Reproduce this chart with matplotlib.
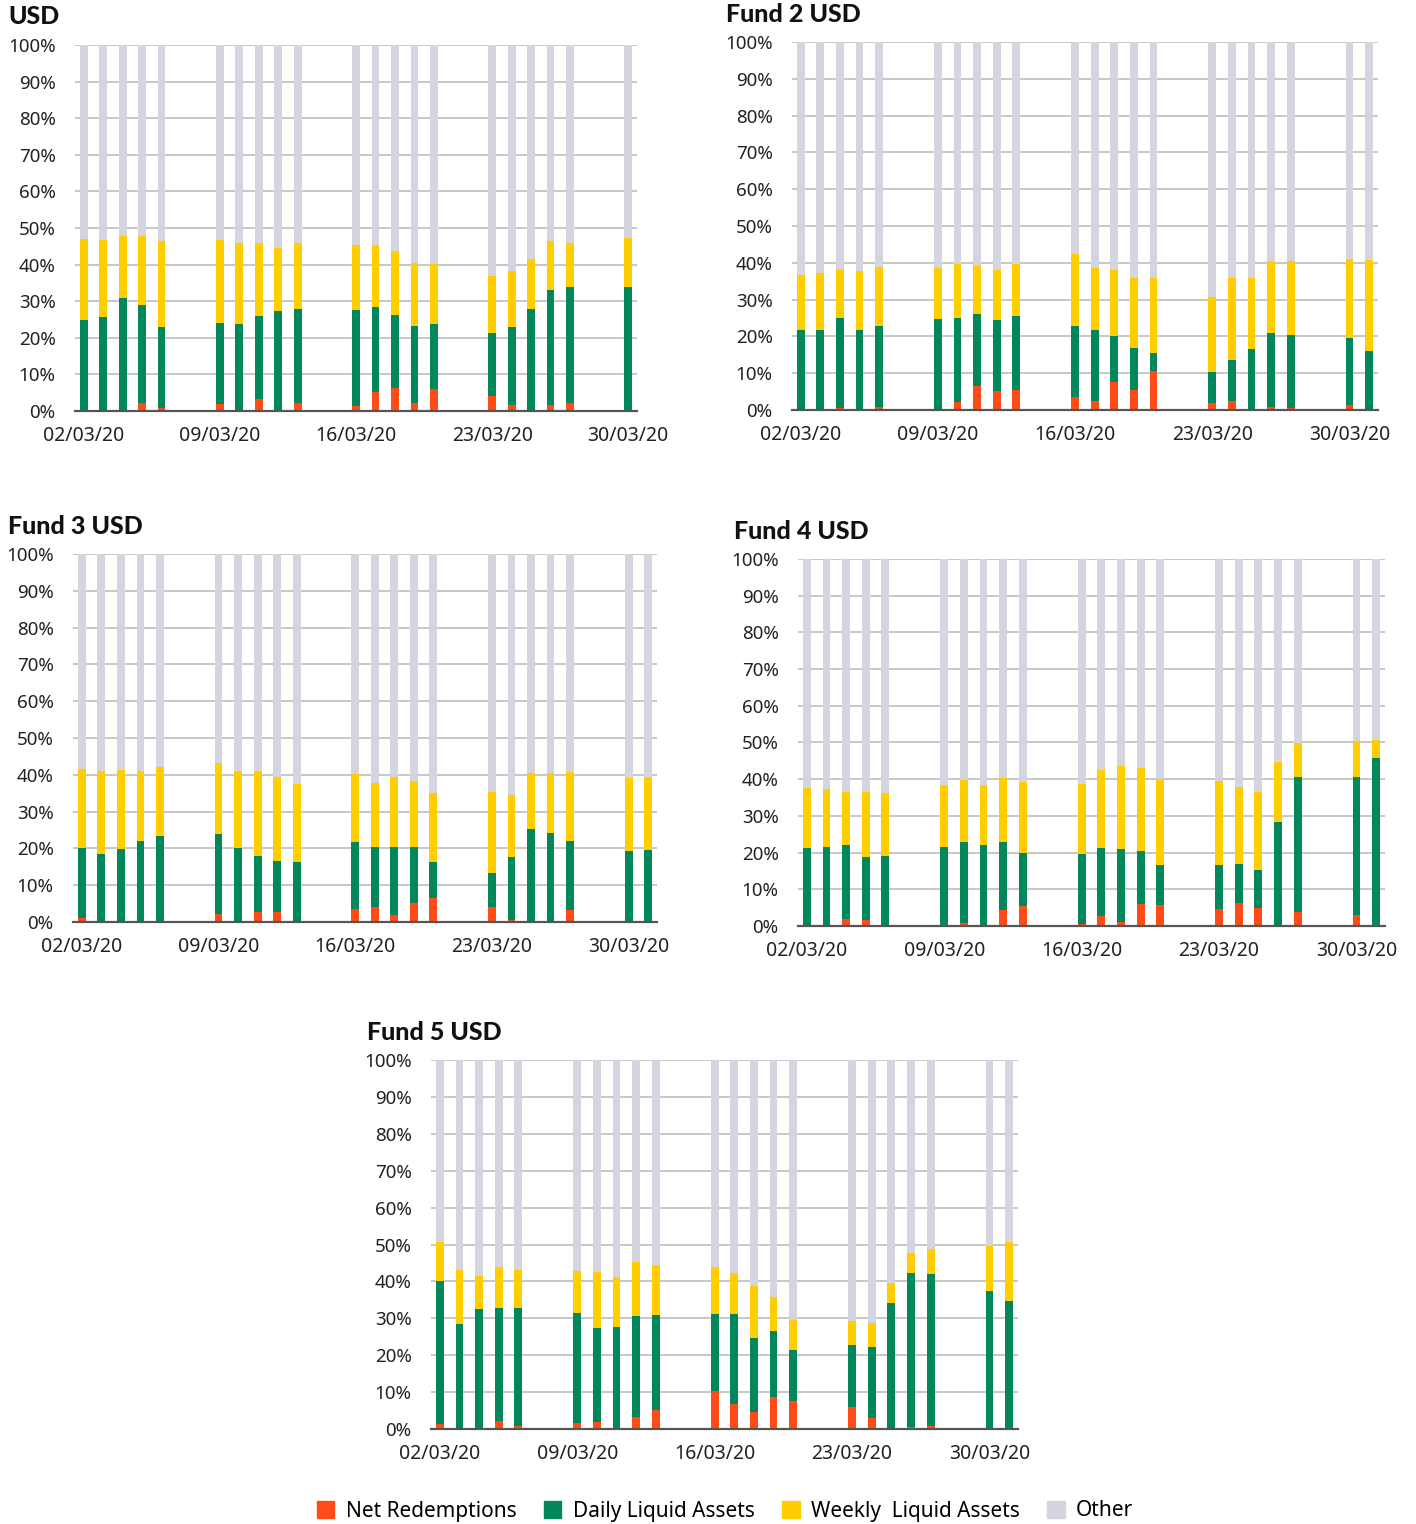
import datetime as dt
import matplotlib
matplotlib.use("Agg")
import matplotlib.pyplot as plt
import matplotlib.dates as mdates
from matplotlib.patches import Patch

plt.rcParams["font.family"] = ["Noto Sans", "DejaVu Sans"]

# trading days in March 2020
days = ["02/03/20", "03/03/20", "04/03/20", "05/03/20", "06/03/20",
        "09/03/20", "10/03/20", "11/03/20", "12/03/20", "13/03/20",
        "16/03/20", "17/03/20", "18/03/20", "19/03/20", "20/03/20",
        "23/03/20", "24/03/20", "25/03/20", "26/03/20", "27/03/20",
        "30/03/20", "31/03/20"]
tick_days = ["02/03/20", "09/03/20", "16/03/20", "23/03/20", "30/03/20"]

titles = ["USD", "Fund 2 USD", "Fund 3 USD", "Fund 4 USD", "Fund 5 USD"]

# % of assets (net redemptions, daily liquid, weekly liquid incl. daily)
usd_red = [0, 0, 0, 2.2, 0.7, 1.8, 0.4, 3.2, 0.2, 2.1, 1.3, 5.3, 6.4, 2.3, 5.9,
           4.2, 1.6, 0, 1.7, 2.3, 0]
usd_dla = [24.9, 25.6, 30.9, 28.9, 23.0, 24.0, 23.9, 26.0, 27.2, 27.9, 27.6, 28.4,
           26.1, 23.3, 23.9, 21.3, 23.0, 27.9, 33.0, 34.0, 33.8]
usd_wla = [47.0, 46.6, 47.7, 47.9, 46.4, 46.8, 45.9, 45.9, 44.6, 45.9, 45.4, 45.4,
           43.6, 40.5, 40.1, 36.8, 38.3, 41.6, 46.5, 45.9, 47.3]

f2_red = [0.3, 0, 0.6, 0, 0.7, 0, 2.1, 6.6, 5.2, 5.4, 3.4, 2.5, 7.5, 5.3, 10.7,
          1.9, 2.5, 0.3, 0.8, 0.4, 1.4, 0]
f2_dla = [21.8, 21.7, 25.0, 21.6, 22.7, 24.6, 25.0, 26.0, 24.4, 25.6, 22.7, 21.7,
          20.1, 16.8, 15.5, 10.2, 13.5, 16.6, 20.8, 20.4, 19.6, 16.0]
f2_wla = [36.8, 37.3, 38.4, 37.8, 38.9, 38.6, 39.7, 39.1, 38.0, 39.6, 42.3, 38.6,
          37.9, 35.8, 35.9, 30.7, 35.8, 35.9, 40.5, 40.4, 40.9, 40.7]

f3_red = [1.1, 0, 0, 0, 0, 2.3, 0, 2.7, 2.6, 0, 3.5, 4.1, 1.9, 5.3, 6.5,
          4.0, 0.6, 0, 0, 3.2, 0, 0]
f3_dla = [20.1, 18.6, 19.9, 21.9, 23.5, 23.9, 20.2, 18.0, 16.7, 16.3, 21.7, 20.5,
          20.5, 20.3, 16.3, 13.3, 17.6, 25.2, 24.2, 22.1, 19.4, 19.6]
f3_wla = [41.6, 41.0, 41.3, 41.1, 42.2, 43.3, 41.1, 40.9, 39.3, 37.6, 40.1, 37.7,
          39.5, 38.4, 35.0, 35.2, 34.5, 40.5, 40.6, 40.7, 39.0, 39.5]

f4_red = [0, 0, 2.0, 1.5, 0, 0, 0.7, 0, 4.3, 5.5, 0.6, 2.8, 1.0, 6.1, 5.7,
          4.5, 6.3, 5.0, 0, 3.7, 3.1, 0]
f4_dla = [21.2, 21.5, 22.2, 18.8, 19.2, 21.5, 23.0, 22.0, 23.0, 19.9, 19.7, 21.2,
          20.9, 20.4, 16.6, 16.5, 16.9, 15.3, 28.3, 40.5, 40.6, 45.9]
f4_wla = [37.5, 37.3, 36.5, 36.6, 36.2, 38.3, 39.7, 38.5, 40.4, 39.2, 38.7, 42.5,
          43.7, 43.0, 40.0, 39.6, 37.9, 36.5, 44.6, 49.9, 50.4, 50.7]

f5_red = [1.3, 0, 0, 2.2, 0.8, 1.7, 1.8, 0, 3.3, 5.2, 10.3, 6.9, 4.5, 8.8, 7.7,
          5.9, 2.9, 0, 0.5, 0.7, 0, 0]
f5_dla = [40.1, 28.4, 32.6, 32.7, 32.8, 31.4, 27.4, 27.6, 30.6, 30.8, 31.1, 31.3,
          24.7, 26.5, 21.4, 22.7, 22.3, 34.2, 42.3, 42.0, 37.3, 34.8]
f5_wla = [50.6, 43.2, 41.5, 43.8, 43.0, 42.9, 42.5, 41.3, 45.3, 44.5, 44.0, 42.3,
          38.9, 35.9, 29.6, 29.4, 28.8, 39.6, 47.7, 48.8, 49.5, 50.6]

RED = "#FF4B17"
GREEN = "#00875C"
YELLOW = "#FFCD00"
GREY = "#D5D5DF"

fig = plt.figure(figsize=(14.16, 15.24), dpi=100)

# axes boxes in figure fractions, and title positions in pixels
boxes = [
    [0.0530, 0.7303, 0.3969, 0.2402],
    [0.5593, 0.7310, 0.4138, 0.2415],
    [0.0516, 0.3950, 0.4124, 0.2415],
    [0.5636, 0.3924, 0.4145, 0.2408],
    [0.3044, 0.0623, 0.4145, 0.2421],
]
title_xy = [(8, 17), (726, 14), (8, 526), (734, 531), (367, 1032)]

series = [
    (usd_red, usd_dla, usd_wla),
    (f2_red, f2_dla, f2_wla),
    (f3_red, f3_dla, f3_wla),
    (f4_red, f4_dla, f4_wla),
    (f5_red, f5_dla, f5_wla),
]

dates = [dt.datetime.strptime(d, "%d/%m/%y") for d in days]
ticks = [dt.datetime.strptime(d, "%d/%m/%y") for d in tick_days]

for box, (tx, ty), title, (red, dla, wla) in zip(boxes, title_xy, titles, series):
    ax = fig.add_axes(box)
    x = dates[:len(red)]
    w = 0.4
    ax.bar(x, [100] * len(x), width=w, color=GREY, zorder=2)
    ax.bar(x, wla, width=w, color=YELLOW, zorder=3)
    ax.bar(x, dla, width=w, color=GREEN, zorder=4)
    ax.bar(x, red, width=w, color=RED, zorder=5)

    ax.set_ylim(0, 100)
    ax.set_xlim(mdates.date2num(x[0]) - 0.45, mdates.date2num(x[-1]) + 0.45)
    ax.set_yticks(range(0, 101, 10))
    ax.set_yticklabels([f"{v}%" for v in range(0, 101, 10)])
    ax.set_xticks(ticks)
    ax.xaxis.set_major_formatter(mdates.DateFormatter("%d/%m/%y"))
    ax.grid(True, axis="y", color="#BDBDBD", linewidth=1.2, zorder=1)
    ax.set_axisbelow(True)
    for s in ["top", "right", "left"]:
        ax.spines[s].set_visible(False)
    ax.spines["bottom"].set_color("#555555")
    ax.spines["bottom"].set_linewidth(1.6)
    ax.spines["bottom"].set_zorder(6)
    ax.tick_params(axis="both", length=0, colors="#222222")
    ax.tick_params(axis="y", pad=14, labelsize=13.5)
    ax.tick_params(axis="x", pad=11, labelsize=14)

    fig.text(tx / 1416, 1 - ty / 1524, title, fontsize=18, fontweight="black",
             family=["Lato", "DejaVu Sans"], ha="left", va="center", color="#111111")

handles = [Patch(color=RED), Patch(color=GREEN), Patch(color=YELLOW), Patch(color=GREY)]
labels = ["Net Redemptions", "Daily Liquid Assets", "Weekly  Liquid Assets", "Other"]
fig.legend(handles, labels, loc="center", bbox_to_anchor=(725 / 1416, 1 - 1511 / 1524),
           ncol=4, frameon=False, fontsize=15, handlelength=0.85, handleheight=0.85,
           handletextpad=0.55, columnspacing=1.3)

fig.savefig("out.png", dpi=100)
